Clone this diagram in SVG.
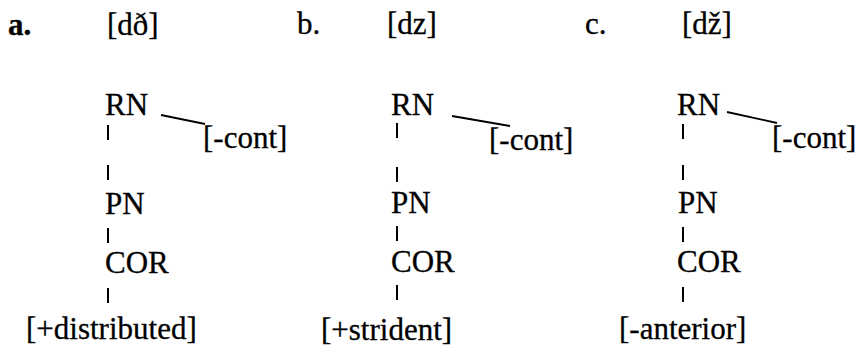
<svg xmlns="http://www.w3.org/2000/svg" width="859" height="348" viewBox="0 0 859 348">
<style>
text { font-family: 'Liberation Serif', 'DejaVu Serif', serif; font-size: 31px; fill: #000; stroke: #000; stroke-width: 0.3; }
.lab { font-weight: bold; }
.bar { stroke: #000; stroke-width: 2; fill: none; }
.edge { stroke: #000; stroke-width: 1.8; fill: none; }
</style>
<rect width="859" height="348" fill="#fff"/>
<g id="col-a">
  <text class="lab" x="8" y="35">a.</text>
  <text x="107" y="35">[dð]</text>
  <g id="a-RN"><text x="105" y="115">RN</text></g>
  <g id="a-cont"><text x="203" y="148">[-cont]</text></g>
  <g id="a-PN"><text x="105" y="214">PN</text></g>
  <g id="a-COR"><text x="105" y="273">COR</text></g>
  <g id="a-dist"><text x="26" y="339">[+distributed]</text></g>
</g>
<g id="col-b">
  <text x="297" y="34">b.</text>
  <text x="387" y="34">[dz]</text>
  <g id="b-RN"><text x="391" y="115">RN</text></g>
  <g id="b-cont"><text x="489" y="150">[-cont]</text></g>
  <g id="b-PN"><text x="391" y="213">PN</text></g>
  <g id="b-COR"><text x="391" y="272">COR</text></g>
  <g id="b-strid"><text x="321" y="340">[+strident]</text></g>
</g>
<g id="col-c">
  <text x="585" y="34">c.</text>
  <text x="682" y="34">[dž]</text>
  <g id="c-RN"><text x="677" y="115">RN</text></g>
  <g id="c-cont"><text x="772" y="148">[-cont]</text></g>
  <g id="c-PN"><text x="678" y="213">PN</text></g>
  <g id="c-COR"><text x="677" y="272">COR</text></g>
  <g id="c-ant"><text x="619" y="339">[-anterior]</text></g>
</g>
<g id="connectors">
  <line class="edge" x1="161" y1="115" x2="205" y2="124"/>
  <line class="edge" x1="452" y1="116" x2="510" y2="126"/>
  <line class="edge" x1="727" y1="112" x2="777" y2="123"/>
  <line class="bar" x1="108" y1="125" x2="108" y2="140"/>
  <line class="bar" x1="108" y1="165" x2="108" y2="180"/>
  <line class="bar" x1="108" y1="228" x2="108" y2="243"/>
  <line class="bar" x1="108" y1="288" x2="108" y2="303"/>
  <line class="bar" x1="397" y1="123" x2="397" y2="138"/>
  <line class="bar" x1="397" y1="167" x2="397" y2="182"/>
  <line class="bar" x1="397" y1="226" x2="397" y2="241"/>
  <line class="bar" x1="397" y1="285" x2="397" y2="300"/>
  <line class="bar" x1="683" y1="124" x2="683" y2="139"/>
  <line class="bar" x1="683" y1="165" x2="683" y2="180"/>
  <line class="bar" x1="683" y1="227" x2="683" y2="242"/>
  <line class="bar" x1="683" y1="287" x2="683" y2="302"/>
</g>
</svg>
